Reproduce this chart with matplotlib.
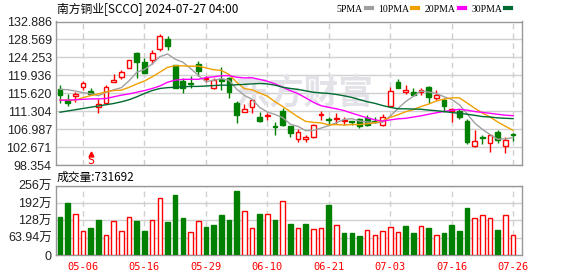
import matplotlib
matplotlib.use('Agg')
import matplotlib.pyplot as plt
from matplotlib.lines import Line2D
import matplotlib.transforms as mtransforms
import numpy as np
import pandas as pd

# ---------------- data ----------------
title = '南方铜业[SCCO] 2024-07-27 04:00'
holidays = ['2024-05-27', '2024-06-19', '2024-07-04']
dates = [d.strftime('%m-%d') for d in pd.bdate_range('2024-05-01', '2024-07-26')
         if d.strftime('%Y-%m-%d') not in holidays]

opens = [116.57, 114.01, 114.97, 117.21, 116.17, 112.26, 113.38, 118.25, 119.61, 121.61,
         125.44, 123.28, 123.76, 126.40, 128.64, 122.40, 118.57, 118.17, 122.80, 119.05,
         116.81, 119.00, 119.21, 113.22, 111.22, 112.26, 110.02, 110.10, 107.70, 111.46,
         107.78, 104.59, 104.67, 105.23, 110.34, 109.38, 109.46, 108.98, 109.06, 109.38,
         109.70, 109.06, 107.94, 112.58, 118.33, 116.01, 116.01, 116.01, 117.05, 114.41,
         114.01, 111.46, 111.38, 109.06, 103.07, 105.23, 103.79, 106.26, 103.07, 105.86]
highs = [117.61, 115.45, 116.01, 118.49, 116.89, 114.17, 117.53, 120.25, 121.21, 123.76,
         125.68, 124.24, 126.00, 130.00, 129.35, 122.40, 119.21, 119.77, 123.44, 119.77,
         119.21, 121.85, 119.61, 113.85, 112.98, 114.01, 111.14, 110.98, 108.82, 112.02,
         107.90, 106.98, 105.63, 108.26, 111.46, 110.02, 110.82, 109.86, 109.06, 109.62,
         110.50, 110.02, 110.58, 117.21, 119.05, 117.61, 116.97, 116.97, 117.37, 116.41,
         114.57, 112.10, 111.78, 109.46, 106.82, 105.63, 105.63, 106.82, 105.23, 106.18]
lows = [113.22, 112.66, 113.61, 116.41, 115.20, 110.98, 113.22, 118.25, 119.13, 121.61,
        119.21, 120.41, 122.80, 125.84, 126.16, 116.81, 115.61, 116.81, 119.69, 118.25,
        116.57, 116.41, 114.41, 108.58, 111.22, 110.82, 108.82, 109.22, 105.63, 107.78,
        105.23, 104.03, 104.03, 104.99, 109.22, 107.94, 108.26, 108.02, 108.02, 107.22,
        107.80, 108.42, 107.78, 112.26, 116.97, 115.45, 114.97, 115.21, 113.38, 114.01,
        111.22, 108.82, 109.54, 103.47, 102.83, 103.47, 101.63, 103.79, 101.39, 104.27]
closes = [115.29, 113.22, 115.45, 118.17, 115.45, 113.05, 117.05, 118.81, 120.65, 123.76,
          123.20, 120.41, 125.44, 129.35, 127.04, 116.97, 116.81, 117.85, 121.05, 119.37,
          118.81, 118.70, 116.01, 110.42, 111.86, 114.01, 109.06, 110.34, 107.54, 108.02,
          106.18, 106.34, 105.23, 108.02, 110.66, 109.22, 109.78, 109.22, 108.82, 107.90,
          108.10, 108.82, 109.86, 116.17, 116.97, 116.41, 115.13, 116.41, 114.81, 115.21,
          112.58, 111.86, 110.02, 103.95, 104.11, 104.99, 105.63, 104.35, 104.50, 105.54]
# volume in 万 shares
volumes = [140, 192, 151, 87, 100, 129, 73, 124, 87, 139,
           126, 89, 128, 209, 122, 222, 137, 85, 124, 103,
           111, 148, 129, 236, 161, 98, 153, 151, 129, 198,
           116, 98, 116, 95, 98, 185, 110, 81, 81, 70,
           91, 73, 87, 102, 85, 107, 81, 106, 100, 73,
           81, 111, 89, 174, 135, 148, 135, 92, 148, 73.1692]

# moving-average values before enough visible closes exist
ma5_head = [116.6, 116.5, 116.2, 115.8]
ma10_head = [114.0, 114.0, 114.0, 114.6, 115.1, 115.5, 116.0, 116.3, 116.4]
ma20_head = [114.0, 114.0, 114.1, 114.2, 114.3, 114.3, 114.4, 114.8, 115.2, 115.5,
             115.9, 116.3, 116.8, 117.4, 118.3, 118.8, 119.0, 119.0, 119.0]
ma30_head = [111.1, 111.4, 111.7, 112.0, 112.3, 112.6, 112.9, 113.2, 113.6, 114.1,
             114.8, 115.6, 116.3, 116.8, 117.0, 117.1, 117.2, 117.3, 117.3, 117.4,
             117.5, 117.6, 117.6, 117.7, 117.8, 117.9, 118.0, 117.9, 117.6]

price_ticks = [98.354, 102.671, 106.987, 111.304, 115.620, 119.936, 124.253, 128.569, 132.886]
vol_ticks = [0, 63.94, 128, 192, 256]
tick_dates = ['05-06', '05-16', '05-29', '06-10', '06-21', '07-03', '07-16', '07-26']
split_date = '05-07'
ma_labels = ['5PMA', '10PMA', '20PMA', '30PMA']

# ---------------- style ----------------
RED = '#ff0000'
GREEN = '#008000'
MA_COLORS = ['#a0a0a0', '#f0a000', '#ff00ff', '#006b30']
GRID = '#d0d0d0'
BORDER = '#999999'

plt.rcParams['font.family'] = ['Liberation Sans', 'Noto Sans CJK SC', 'DejaVu Sans']

n = len(closes)
x = np.arange(n)
o = np.array(opens); h = np.array(highs); l = np.array(lows); c = np.array(closes)


def moving_avg(head, k):
    tail = [np.mean(c[i - k + 1:i + 1]) for i in range(k - 1, n)]
    return list(head) + tail

mas = [moving_avg(ma5_head, 5), moving_avg(ma10_head, 10),
       moving_avg(ma20_head, 20), moving_avg(ma30_head, 30)]

W, H = 578, 276
fig = plt.figure(figsize=(W / 100, H / 100), dpi=100)
ax = fig.add_axes([56 / W, (H - 165.3) / H, 466 / W, 143.8 / H])
axv = fig.add_axes([56 / W, (H - 255) / H, 466 / W, 69.3 / H])

tick_idx = [dates.index(d) for d in tick_dates]

for a in (ax, axv):
    a.set_xlim(-0.52, 60.16)
    for s in a.spines.values():
        s.set_color(BORDER)
        s.set_linewidth(1)
    a.set_axisbelow(True)
    a.set_xticks(tick_idx)
    a.grid(axis='x', color=GRID, lw=1, ls=(0, (4, 3)))
    a.grid(axis='y', color=GRID, lw=1, ls='-')
    a.tick_params(length=0, labelsize=9, colors='#222222', pad=3)

# ---- price panel ----
ax.set_ylim(price_ticks[0], price_ticks[-1])
ax.set_yticks(price_ticks)
ax.set_yticklabels([f'{v:.3f}' for v in price_ticks])
ax.tick_params(axis='x', labelbottom=False)

up = c >= o
col = np.where(up, RED, GREEN)
face = np.where(up, 'white', GREEN)
ax.vlines(x, l, h, colors=col, lw=1, zorder=2)
body_bot = np.minimum(o, c)
body_h = np.maximum(np.abs(c - o), 0.06)
ax.bar(x, body_h, bottom=body_bot, width=0.62, color=face, edgecolor=col, lw=1, zorder=3)

for vals, colr in zip(mas, MA_COLORS):
    ax.plot(x, vals, color=colr, lw=1, zorder=4)

ax.text(0.534, 0.503, '东方财富', transform=ax.transAxes, ha='center', va='center',
        fontsize=25, fontweight='bold', color='#e2e2e8', family=['Noto Sans CJK SC'], zorder=1)

si = dates.index(split_date)
trans = mtransforms.blended_transform_factory(ax.transData, ax.transAxes)
ax.plot([si], [0.078], marker='^', ms=3.5, color=RED, transform=trans, clip_on=False, zorder=5)
ax.text(si, 0.035, 'S', transform=trans, ha='center', va='center', color=RED,
        fontsize=8.5, family=['DejaVu Sans Mono'], zorder=5)

fig.text(57 / W, 1 - 9 / H, title, ha='left', va='center', fontsize=8.5,
         family=['Noto Sans CJK SC', 'DejaVu Sans'], color='#000000')

handles = [Line2D([], [], color=cc, lw=3) for cc in MA_COLORS]
fig.legend(handles, ma_labels, ncol=4, markerfirst=False, frameon=False,
           loc='center right', bbox_to_anchor=(511 / W, 1 - 9 / H),
           handlelength=0.6, handletextpad=0.3, columnspacing=0.7,
           prop={'family': 'Liberation Serif', 'size': 7}, borderaxespad=0, borderpad=0)

# ---- volume panel ----
vol = np.array(volumes)
prev = np.concatenate([[o[0]], c[:-1]])
vup = c >= prev
vcol = np.where(vup, RED, GREEN)
vface = np.where(vup, 'white', GREEN)
axv.bar(x, vol, width=0.6, color=vface, edgecolor=vcol, lw=1, zorder=3)
axv.set_ylim(vol_ticks[0], vol_ticks[-1])
axv.set_yticks(vol_ticks)
axv.set_yticklabels(['0' if v == 0 else f'{v:g}万' for v in vol_ticks])
axv.set_xticklabels(tick_dates)
axv.tick_params(axis='x', colors=RED, labelsize=7.5, pad=5)
for t in axv.get_xticklabels():
    t.set_family('DejaVu Sans Mono')

fig.text(57 / W, 1 - 177 / H, '成交量:' + str(int(round(volumes[-1] * 1e4))),
         ha='left', va='center', fontsize=8.5, family=['Noto Sans CJK SC', 'DejaVu Sans'])

fig.savefig('out.png', dpi=100)
